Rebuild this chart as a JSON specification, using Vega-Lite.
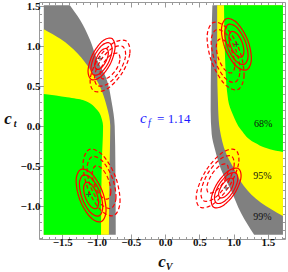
{
"$schema":"https://vega.github.io/schema/vega-lite/v6.json",
"width":246,"height":237,
"autosize":{"type":"none"},
"padding":{"left":39,"top":2,"right":3,"bottom":33},
"background":"white",
"config":{"font":"Liberation Serif","view":{"stroke":"#999","strokeWidth":1}},
"datasets":{
"reg":[
{"l":99,"s":"L","y":-1.36,"a":-1.77,"b":-0.72},{"l":99,"s":"L","y":-0.5,"a":-1.77,"b":-0.725},{"l":99,"s":"L","y":0,"a":-1.77,"b":-0.735},{"l":99,"s":"L","y":0.3,"a":-1.77,"b":-0.78},{"l":99,"s":"L","y":0.6,"a":-1.77,"b":-0.86},{"l":99,"s":"L","y":0.825,"a":-1.77,"b":-0.99},{"l":99,"s":"L","y":1.075,"a":-1.77,"b":-1.095},{"l":99,"s":"L","y":1.325,"a":-1.77,"b":-1.24},{"l":99,"s":"L","y":1.51,"a":-1.77,"b":-1.39},
{"l":95,"s":"L","y":-1.36,"a":-1.77,"b":-0.82},{"l":95,"s":"L","y":-0.5,"a":-1.77,"b":-0.81},{"l":95,"s":"L","y":0,"a":-1.77,"b":-0.8},{"l":95,"s":"L","y":0.24,"a":-1.77,"b":-0.85},{"l":95,"s":"L","y":0.49,"a":-1.77,"b":-0.95},{"l":95,"s":"L","y":0.7,"a":-1.77,"b":-1.09},{"l":95,"s":"L","y":0.91,"a":-1.77,"b":-1.28},{"l":95,"s":"L","y":1.09,"a":-1.77,"b":-1.53},{"l":95,"s":"L","y":1.21,"a":-1.77,"b":-1.77},
{"l":68,"s":"L","y":-1.36,"a":-1.77,"b":-0.935},{"l":68,"s":"L","y":-0.5,"a":-1.77,"b":-0.925},{"l":68,"s":"L","y":0,"a":-1.77,"b":-0.905},{"l":68,"s":"L","y":0.075,"a":-1.77,"b":-0.92},{"l":68,"s":"L","y":0.2,"a":-1.77,"b":-0.99},{"l":68,"s":"L","y":0.325,"a":-1.77,"b":-1.2},{"l":68,"s":"L","y":0.36,"a":-1.77,"b":-1.43},{"l":68,"s":"L","y":0.4,"a":-1.77,"b":-1.77},
{"l":99,"s":"R","y":-1.36,"a":1.3,"b":1.72},{"l":99,"s":"R","y":-1.09,"a":1.11,"b":1.72},{"l":99,"s":"R","y":-0.8,"a":0.96,"b":1.72},{"l":99,"s":"R","y":-0.55,"a":0.82,"b":1.72},{"l":99,"s":"R","y":-0.3,"a":0.73,"b":1.72},{"l":99,"s":"R","y":-0.1,"a":0.68,"b":1.72},{"l":99,"s":"R","y":0.2,"a":0.665,"b":1.72},{"l":99,"s":"R","y":0.8,"a":0.67,"b":1.72},{"l":99,"s":"R","y":1.51,"a":0.69,"b":1.72},
{"l":95,"s":"R","y":-1.125,"a":1.72,"b":1.72},{"l":95,"s":"R","y":-0.96,"a":1.4,"b":1.72},{"l":95,"s":"R","y":-0.75,"a":1.15,"b":1.72},{"l":95,"s":"R","y":-0.54,"a":1.01,"b":1.72},{"l":95,"s":"R","y":-0.34,"a":0.89,"b":1.72},{"l":95,"s":"R","y":-0.05,"a":0.8,"b":1.72},{"l":95,"s":"R","y":0.2,"a":0.775,"b":1.72},{"l":95,"s":"R","y":0.825,"a":0.76,"b":1.72},{"l":95,"s":"R","y":1.51,"a":0.76,"b":1.72},
{"l":68,"s":"R","y":-0.325,"a":1.72,"b":1.72},{"l":68,"s":"R","y":-0.29,"a":1.53,"b":1.72},{"l":68,"s":"R","y":-0.21,"a":1.31,"b":1.72},{"l":68,"s":"R","y":-0.05,"a":1.11,"b":1.72},{"l":68,"s":"R","y":0.14,"a":0.99,"b":1.72},{"l":68,"s":"R","y":0.325,"a":0.92,"b":1.72},{"l":68,"s":"R","y":0.825,"a":0.876,"b":1.72},{"l":68,"s":"R","y":1.51,"a":0.86,"b":1.72}
],
"ell":[
{"e":"As1","d":"s","i":0,"x":-0.78,"y":1.095},{"e":"As1","d":"s","i":1,"x":-0.73,"y":0.981},{"e":"As1","d":"s","i":2,"x":-0.796,"y":0.783},{"e":"As1","d":"s","i":3,"x":-0.938,"y":0.617},{"e":"As1","d":"s","i":4,"x":-1.074,"y":0.581},{"e":"As1","d":"s","i":5,"x":-1.124,"y":0.695},{"e":"As1","d":"s","i":6,"x":-1.058,"y":0.893},{"e":"As1","d":"s","i":7,"x":-0.916,"y":1.059},
{"e":"As2","d":"s","i":0,"x":-0.812,"y":1.038},{"e":"As2","d":"s","i":1,"x":-0.773,"y":0.95},{"e":"As2","d":"s","i":2,"x":-0.825,"y":0.795},{"e":"As2","d":"s","i":3,"x":-0.936,"y":0.666},{"e":"As2","d":"s","i":4,"x":-1.042,"y":0.638},{"e":"As2","d":"s","i":5,"x":-1.081,"y":0.726},{"e":"As2","d":"s","i":6,"x":-1.029,"y":0.881},{"e":"As2","d":"s","i":7,"x":-0.918,"y":1.01},
{"e":"As3","d":"s","i":0,"x":-0.853,"y":0.967},{"e":"As3","d":"s","i":1,"x":-0.828,"y":0.91},{"e":"As3","d":"s","i":2,"x":-0.861,"y":0.81},{"e":"As3","d":"s","i":3,"x":-0.933,"y":0.727},{"e":"As3","d":"s","i":4,"x":-1.001,"y":0.709},{"e":"As3","d":"s","i":5,"x":-1.026,"y":0.766},{"e":"As3","d":"s","i":6,"x":-0.993,"y":0.866},{"e":"As3","d":"s","i":7,"x":-0.921,"y":0.949},
{"e":"Ad1","d":"d","i":0,"x":-0.566,"y":1.061},{"e":"Ad1","d":"d","i":1,"x":-0.515,"y":0.902},{"e":"Ad1","d":"d","i":2,"x":-0.632,"y":0.654},{"e":"Ad1","d":"d","i":3,"x":-0.849,"y":0.463},{"e":"Ad1","d":"d","i":4,"x":-1.04,"y":0.439},{"e":"Ad1","d":"d","i":5,"x":-1.091,"y":0.598},{"e":"Ad1","d":"d","i":6,"x":-0.974,"y":0.846},{"e":"Ad1","d":"d","i":7,"x":-0.757,"y":1.037},
{"e":"Ad2","d":"d","i":0,"x":-0.618,"y":0.993},{"e":"Ad2","d":"d","i":1,"x":-0.578,"y":0.869},{"e":"Ad2","d":"d","i":2,"x":-0.67,"y":0.675},{"e":"Ad2","d":"d","i":3,"x":-0.839,"y":0.526},{"e":"Ad2","d":"d","i":4,"x":-0.988,"y":0.507},{"e":"Ad2","d":"d","i":5,"x":-1.028,"y":0.631},{"e":"Ad2","d":"d","i":6,"x":-0.936,"y":0.825},{"e":"Ad2","d":"d","i":7,"x":-0.767,"y":0.974},
{"e":"Ad3","d":"d","i":0,"x":-0.684,"y":0.906},{"e":"Ad3","d":"d","i":1,"x":-0.659,"y":0.826},{"e":"Ad3","d":"d","i":2,"x":-0.717,"y":0.702},{"e":"Ad3","d":"d","i":3,"x":-0.826,"y":0.606},{"e":"Ad3","d":"d","i":4,"x":-0.922,"y":0.594},{"e":"Ad3","d":"d","i":5,"x":-0.947,"y":0.674},{"e":"Ad3","d":"d","i":6,"x":-0.889,"y":0.798},{"e":"Ad3","d":"d","i":7,"x":-0.78,"y":0.894},
{"e":"Bs1","d":"s","i":0,"x":1.187,"y":0.701},{"e":"Bs1","d":"s","i":1,"x":1.259,"y":0.833},{"e":"Bs1","d":"s","i":2,"x":1.204,"y":1.076},{"e":"Bs1","d":"s","i":3,"x":1.053,"y":1.286},{"e":"Bs1","d":"s","i":4,"x":0.895,"y":1.341},{"e":"Bs1","d":"s","i":5,"x":0.823,"y":1.209},{"e":"Bs1","d":"s","i":6,"x":0.878,"y":0.966},{"e":"Bs1","d":"s","i":7,"x":1.029,"y":0.756},
{"e":"Bs2","d":"s","i":0,"x":1.155,"y":0.771},{"e":"Bs2","d":"s","i":1,"x":1.211,"y":0.874},{"e":"Bs2","d":"s","i":2,"x":1.168,"y":1.064},{"e":"Bs2","d":"s","i":3,"x":1.05,"y":1.228},{"e":"Bs2","d":"s","i":4,"x":0.927,"y":1.271},{"e":"Bs2","d":"s","i":5,"x":0.871,"y":1.168},{"e":"Bs2","d":"s","i":6,"x":0.914,"y":0.978},{"e":"Bs2","d":"s","i":7,"x":1.032,"y":0.814},
{"e":"Bs3","d":"s","i":0,"x":1.114,"y":0.861},{"e":"Bs3","d":"s","i":1,"x":1.15,"y":0.927},{"e":"Bs3","d":"s","i":2,"x":1.123,"y":1.049},{"e":"Bs3","d":"s","i":3,"x":1.047,"y":1.154},{"e":"Bs3","d":"s","i":4,"x":0.968,"y":1.181},{"e":"Bs3","d":"s","i":5,"x":0.932,"y":1.115},{"e":"Bs3","d":"s","i":6,"x":0.959,"y":0.993},{"e":"Bs3","d":"s","i":7,"x":1.035,"y":0.888},
{"e":"Bd1","d":"d","i":0,"x":1.057,"y":0.454},{"e":"Bd1","d":"d","i":1,"x":1.152,"y":0.622},{"e":"Bd1","d":"d","i":2,"x":1.09,"y":0.938},{"e":"Bd1","d":"d","i":3,"x":0.906,"y":1.217},{"e":"Bd1","d":"d","i":4,"x":0.709,"y":1.296},{"e":"Bd1","d":"d","i":5,"x":0.614,"y":1.128},{"e":"Bd1","d":"d","i":6,"x":0.676,"y":0.812},{"e":"Bd1","d":"d","i":7,"x":0.86,"y":0.533},
{"e":"Bd2","d":"d","i":0,"x":1.019,"y":0.547},{"e":"Bd2","d":"d","i":1,"x":1.093,"y":0.678},{"e":"Bd2","d":"d","i":2,"x":1.044,"y":0.924},{"e":"Bd2","d":"d","i":3,"x":0.901,"y":1.142},{"e":"Bd2","d":"d","i":4,"x":0.747,"y":1.203},{"e":"Bd2","d":"d","i":5,"x":0.673,"y":1.072},{"e":"Bd2","d":"d","i":6,"x":0.722,"y":0.826},{"e":"Bd2","d":"d","i":7,"x":0.865,"y":0.608},
{"e":"Bd3","d":"d","i":0,"x":0.97,"y":0.664},{"e":"Bd3","d":"d","i":1,"x":1.018,"y":0.748},{"e":"Bd3","d":"d","i":2,"x":0.987,"y":0.907},{"e":"Bd3","d":"d","i":3,"x":0.895,"y":1.046},{"e":"Bd3","d":"d","i":4,"x":0.796,"y":1.086},{"e":"Bd3","d":"d","i":5,"x":0.748,"y":1.002},{"e":"Bd3","d":"d","i":6,"x":0.779,"y":0.843},{"e":"Bd3","d":"d","i":7,"x":0.871,"y":0.704},
{"e":"Cs1","d":"s","i":0,"x":-0.935,"y":-1.196},{"e":"Cs1","d":"s","i":1,"x":-0.862,"y":-1.063},{"e":"Cs1","d":"s","i":2,"x":-0.916,"y":-0.816},{"e":"Cs1","d":"s","i":3,"x":-1.067,"y":-0.6},{"e":"Cs1","d":"s","i":4,"x":-1.225,"y":-0.542},{"e":"Cs1","d":"s","i":5,"x":-1.298,"y":-0.675},{"e":"Cs1","d":"s","i":6,"x":-1.244,"y":-0.922},{"e":"Cs1","d":"s","i":7,"x":-1.093,"y":-1.138},
{"e":"Cs2","d":"s","i":0,"x":-0.967,"y":-1.124},{"e":"Cs2","d":"s","i":1,"x":-0.91,"y":-1.02},{"e":"Cs2","d":"s","i":2,"x":-0.952,"y":-0.828},{"e":"Cs2","d":"s","i":3,"x":-1.07,"y":-0.659},{"e":"Cs2","d":"s","i":4,"x":-1.193,"y":-0.614},{"e":"Cs2","d":"s","i":5,"x":-1.25,"y":-0.718},{"e":"Cs2","d":"s","i":6,"x":-1.208,"y":-0.91},{"e":"Cs2","d":"s","i":7,"x":-1.09,"y":-1.079},
{"e":"Cs3","d":"s","i":0,"x":-1.007,"y":-1.033},{"e":"Cs3","d":"s","i":1,"x":-0.971,"y":-0.966},{"e":"Cs3","d":"s","i":2,"x":-0.998,"y":-0.842},{"e":"Cs3","d":"s","i":3,"x":-1.073,"y":-0.734},{"e":"Cs3","d":"s","i":4,"x":-1.153,"y":-0.705},{"e":"Cs3","d":"s","i":5,"x":-1.189,"y":-0.772},{"e":"Cs3","d":"s","i":6,"x":-1.162,"y":-0.896},{"e":"Cs3","d":"s","i":7,"x":-1.087,"y":-1.004},
{"e":"Cd1","d":"d","i":0,"x":-0.752,"y":-1.12},{"e":"Cd1","d":"d","i":1,"x":-0.658,"y":-0.953},{"e":"Cd1","d":"d","i":2,"x":-0.721,"y":-0.642},{"e":"Cd1","d":"d","i":3,"x":-0.905,"y":-0.369},{"e":"Cd1","d":"d","i":4,"x":-1.102,"y":-0.292},{"e":"Cd1","d":"d","i":5,"x":-1.196,"y":-0.459},{"e":"Cd1","d":"d","i":6,"x":-1.133,"y":-0.77},{"e":"Cd1","d":"d","i":7,"x":-0.949,"y":-1.043},
{"e":"Cd2","d":"d","i":0,"x":-0.79,"y":-1.029},{"e":"Cd2","d":"d","i":1,"x":-0.717,"y":-0.899},{"e":"Cd2","d":"d","i":2,"x":-0.766,"y":-0.656},{"e":"Cd2","d":"d","i":3,"x":-0.91,"y":-0.443},{"e":"Cd2","d":"d","i":4,"x":-1.064,"y":-0.383},{"e":"Cd2","d":"d","i":5,"x":-1.137,"y":-0.513},{"e":"Cd2","d":"d","i":6,"x":-1.088,"y":-0.756},{"e":"Cd2","d":"d","i":7,"x":-0.944,"y":-0.969},
{"e":"Cd3","d":"d","i":0,"x":-0.839,"y":-0.913},{"e":"Cd3","d":"d","i":1,"x":-0.792,"y":-0.83},{"e":"Cd3","d":"d","i":2,"x":-0.824,"y":-0.674},{"e":"Cd3","d":"d","i":3,"x":-0.916,"y":-0.537},{"e":"Cd3","d":"d","i":4,"x":-1.015,"y":-0.499},{"e":"Cd3","d":"d","i":5,"x":-1.062,"y":-0.582},{"e":"Cd3","d":"d","i":6,"x":-1.03,"y":-0.738},{"e":"Cd3","d":"d","i":7,"x":-0.938,"y":-0.875},
{"e":"Ds1","d":"s","i":0,"x":1.072,"y":-0.534},{"e":"Ds1","d":"s","i":1,"x":1.106,"y":-0.653},{"e":"Ds1","d":"s","i":2,"x":1.014,"y":-0.843},{"e":"Ds1","d":"s","i":3,"x":0.85,"y":-0.993},{"e":"Ds1","d":"s","i":4,"x":0.71,"y":-1.016},{"e":"Ds1","d":"s","i":5,"x":0.676,"y":-0.897},{"e":"Ds1","d":"s","i":6,"x":0.768,"y":-0.707},{"e":"Ds1","d":"s","i":7,"x":0.932,"y":-0.557},
{"e":"Ds2","d":"s","i":0,"x":1.032,"y":-0.587},{"e":"Ds2","d":"s","i":1,"x":1.059,"y":-0.68},{"e":"Ds2","d":"s","i":2,"x":0.987,"y":-0.828},{"e":"Ds2","d":"s","i":3,"x":0.859,"y":-0.945},{"e":"Ds2","d":"s","i":4,"x":0.75,"y":-0.963},{"e":"Ds2","d":"s","i":5,"x":0.723,"y":-0.87},{"e":"Ds2","d":"s","i":6,"x":0.795,"y":-0.722},{"e":"Ds2","d":"s","i":7,"x":0.923,"y":-0.605},
{"e":"Ds3","d":"s","i":0,"x":0.982,"y":-0.655},{"e":"Ds3","d":"s","i":1,"x":0.999,"y":-0.714},{"e":"Ds3","d":"s","i":2,"x":0.953,"y":-0.809},{"e":"Ds3","d":"s","i":3,"x":0.87,"y":-0.884},{"e":"Ds3","d":"s","i":4,"x":0.8,"y":-0.895},{"e":"Ds3","d":"s","i":5,"x":0.783,"y":-0.836},{"e":"Ds3","d":"s","i":6,"x":0.829,"y":-0.741},{"e":"Ds3","d":"s","i":7,"x":0.912,"y":-0.666},
{"e":"Dd1","d":"d","i":0,"x":1.027,"y":-0.299},{"e":"Dd1","d":"d","i":1,"x":1.073,"y":-0.469},{"e":"Dd1","d":"d","i":2,"x":0.939,"y":-0.749},{"e":"Dd1","d":"d","i":3,"x":0.704,"y":-0.974},{"e":"Dd1","d":"d","i":4,"x":0.505,"y":-1.013},{"e":"Dd1","d":"d","i":5,"x":0.459,"y":-0.843},{"e":"Dd1","d":"d","i":6,"x":0.593,"y":-0.563},{"e":"Dd1","d":"d","i":7,"x":0.828,"y":-0.338},
{"e":"Dd2","d":"d","i":0,"x":0.97,"y":-0.378},{"e":"Dd2","d":"d","i":1,"x":1.005,"y":-0.51},{"e":"Dd2","d":"d","i":2,"x":0.901,"y":-0.729},{"e":"Dd2","d":"d","i":3,"x":0.718,"y":-0.904},{"e":"Dd2","d":"d","i":4,"x":0.562,"y":-0.934},{"e":"Dd2","d":"d","i":5,"x":0.527,"y":-0.802},{"e":"Dd2","d":"d","i":6,"x":0.631,"y":-0.583},{"e":"Dd2","d":"d","i":7,"x":0.814,"y":-0.408},
{"e":"Dd3","d":"d","i":0,"x":0.897,"y":-0.477},{"e":"Dd3","d":"d","i":1,"x":0.92,"y":-0.562},{"e":"Dd3","d":"d","i":2,"x":0.853,"y":-0.703},{"e":"Dd3","d":"d","i":3,"x":0.735,"y":-0.815},{"e":"Dd3","d":"d","i":4,"x":0.635,"y":-0.835},{"e":"Dd3","d":"d","i":5,"x":0.612,"y":-0.75},{"e":"Dd3","d":"d","i":6,"x":0.679,"y":-0.609},{"e":"Dd3","d":"d","i":7,"x":0.797,"y":-0.497}
],
"ctr":[{"x":-0.95,"y":0.845},{"x":1.04,"y":1.02},{"x":-1.117,"y":-0.856},{"x":0.89,"y":-0.775}],
"pct":[{"t":"68%","x":1.43,"y":0.03},{"t":"95%","x":1.42,"y":-0.625},{"t":"99%","x":1.42,"y":-1.14}],
"cf":[{"x":-0.365,"y":0.0375}],
"ttl":[{"t":"c","x":-0.044,"y":-1.7625},{"t":"c","x":-2.292,"y":0.025}],
"sub":[{"t":"V","x":0.058,"y":-1.8},{"t":"t","x":-2.19,"y":-0.0125}]
},
"resolve":{"axis":{"x":"independent","y":"independent"}},
"layer":[
{"data":{"name":"reg"},"transform":[{"filter":"datum.l == 99"}],
 "mark":{"type":"area","orient":"horizontal","interpolate":"monotone","color":"#808080"},
 "encoding":{
  "y":{"field":"y","type":"quantitative","scale":{"domain":[-1.4125,1.55],"nice":false,"zero":false},
   "axis":{"orient":"left","values":[-1.4,-1.3,-1.2,-1.1,-1,-0.9,-0.8,-0.7,-0.6,-0.5,-0.4,-0.3,-0.2,-0.1,0,0.1,0.2,0.3,0.4,0.5,0.6,0.7,0.8,0.9,1,1.1,1.2,1.3,1.4,1.5],
    "labelExpr":"abs(datum.value*2-round(datum.value*2))<0.001 ? format(datum.value,'.1f') : ''",
    "tickSize":{"condition":{"test":"abs(datum.value*2-round(datum.value*2))<0.001","value":-5},"value":-2.5},
    "tickColor":"#999","domain":false,"grid":false,"title":null,"labelFont":"Liberation Serif","labelFontWeight":"bold","labelFontSize":11,"labelColor":"#111","labelPadding":4,"labelOverlap":false,"labelFlush":false,"labelBound":false}},
  "x":{"field":"a","type":"quantitative","scale":{"domain":[-1.84,1.75],"nice":false,"zero":false},
   "axis":{"orient":"bottom","values":[-1.8,-1.7,-1.6,-1.5,-1.4,-1.3,-1.2,-1.1,-1,-0.9,-0.8,-0.7,-0.6,-0.5,-0.4,-0.3,-0.2,-0.1,0,0.1,0.2,0.3,0.4,0.5,0.6,0.7,0.8,0.9,1,1.1,1.2,1.3,1.4,1.5,1.6,1.7],
    "labelExpr":"abs(datum.value*2-round(datum.value*2))<0.001 ? format(datum.value,'.1f') : ''",
    "tickSize":{"condition":{"test":"abs(datum.value*2-round(datum.value*2))<0.001","value":-5},"value":-2.5},
    "tickColor":"#999","domain":false,"grid":false,"title":null,"labelFont":"Liberation Serif","labelFontWeight":"bold","labelFontSize":11,"labelColor":"#111","labelPadding":2,"labelOverlap":false,"labelFlush":false,"labelBound":false}},
  "x2":{"field":"b"},
  "detail":{"field":"s"}}},
{"data":{"name":"reg"},"transform":[{"filter":"datum.l == 95"}],
 "mark":{"type":"area","orient":"horizontal","interpolate":"monotone","color":"#ffff00"},
 "encoding":{
  "y":{"field":"y","type":"quantitative","scale":{"domain":[-1.4125,1.55],"nice":false,"zero":false},"axis":null},
  "x":{"field":"a","type":"quantitative","scale":{"domain":[-1.84,1.75],"nice":false,"zero":false},"axis":null},
  "x2":{"field":"b"},"detail":{"field":"s"}}},
{"data":{"name":"reg"},"transform":[{"filter":"datum.l == 68"}],
 "mark":{"type":"area","orient":"horizontal","interpolate":"monotone","color":"#00ff00"},
 "encoding":{
  "y":{"field":"y","type":"quantitative","scale":{"domain":[-1.4125,1.55],"nice":false,"zero":false},"axis":null},
  "x":{"field":"a","type":"quantitative","scale":{"domain":[-1.84,1.75],"nice":false,"zero":false},"axis":null},
  "x2":{"field":"b"},"detail":{"field":"s"}}},
{"data":{"name":"ell"},
 "mark":{"type":"line","interpolate":"cardinal-closed","color":"#ff0000","strokeWidth":1.2},
 "encoding":{
  "x":{"field":"x","type":"quantitative","scale":{"domain":[-1.84,1.75],"nice":false,"zero":false},"axis":null},
  "y":{"field":"y","type":"quantitative","scale":{"domain":[-1.4125,1.55],"nice":false,"zero":false},"axis":null},
  "detail":{"field":"e"},"order":{"field":"i","type":"quantitative"},
  "strokeDash":{"field":"d","type":"nominal","scale":{"domain":["s","d"],"range":[[1,0],[4,2.5]]},"legend":null}}},
{"data":{"name":"ctr"},
 "mark":{"type":"point","shape":"M-1,0L1,0M0,-1L0,1","size":25,"filled":false,"color":"#333","strokeWidth":1},
 "encoding":{
  "x":{"field":"x","type":"quantitative","scale":{"domain":[-1.84,1.75],"nice":false,"zero":false},"axis":null},
  "y":{"field":"y","type":"quantitative","scale":{"domain":[-1.4125,1.55],"nice":false,"zero":false},"axis":null}}},
{"data":{"name":"pct"},
 "mark":{"type":"text","font":"Liberation Serif","fontSize":10,"color":"#111","baseline":"middle","align":"center"},
 "encoding":{
  "x":{"field":"x","type":"quantitative","scale":{"domain":[-1.84,1.75],"nice":false,"zero":false},
   "axis":{"orient":"top","values":[-1.8,-1.7,-1.6,-1.5,-1.4,-1.3,-1.2,-1.1,-1,-0.9,-0.8,-0.7,-0.6,-0.5,-0.4,-0.3,-0.2,-0.1,0,0.1,0.2,0.3,0.4,0.5,0.6,0.7,0.8,0.9,1,1.1,1.2,1.3,1.4,1.5,1.6,1.7],"labels":false,
    "tickSize":{"condition":{"test":"abs(datum.value*2-round(datum.value*2))<0.001","value":-5},"value":-2.5},"tickColor":"#999","domain":false,"grid":false,"title":null}},
  "y":{"field":"y","type":"quantitative","scale":{"domain":[-1.4125,1.55],"nice":false,"zero":false},
   "axis":{"orient":"right","values":[-1.4,-1.3,-1.2,-1.1,-1,-0.9,-0.8,-0.7,-0.6,-0.5,-0.4,-0.3,-0.2,-0.1,0,0.1,0.2,0.3,0.4,0.5,0.6,0.7,0.8,0.9,1,1.1,1.2,1.3,1.4,1.5],"labels":false,
    "tickSize":{"condition":{"test":"abs(datum.value*2-round(datum.value*2))<0.001","value":-5},"value":-2.5},"tickColor":"#999","domain":false,"grid":false,"title":null}},
  "text":{"field":"t"}}},
{"data":{"name":"cf"},
 "mark":{"type":"text","text":"c","font":"Liberation Serif","fontStyle":"italic","fontSize":15,"color":"#1a1aff","align":"left","baseline":"alphabetic"},
 "encoding":{
  "x":{"field":"x","type":"quantitative","scale":{"domain":[-1.84,1.75],"nice":false,"zero":false},"axis":null},
  "y":{"field":"y","type":"quantitative","scale":{"domain":[-1.4125,1.55],"nice":false,"zero":false},"axis":null}}},
{"data":{"name":"cf"},
 "mark":{"type":"text","text":"f","font":"Liberation Serif","fontStyle":"italic","fontSize":10,"color":"#1a1aff","align":"left","baseline":"alphabetic","dx":8,"dy":3},
 "encoding":{
  "x":{"field":"x","type":"quantitative","scale":{"domain":[-1.84,1.75],"nice":false,"zero":false},"axis":null},
  "y":{"field":"y","type":"quantitative","scale":{"domain":[-1.4125,1.55],"nice":false,"zero":false},"axis":null}}},
{"data":{"name":"cf"},
 "mark":{"type":"text","text":"= 1.14","font":"Liberation Serif","fontSize":13,"color":"#1a1aff","align":"left","baseline":"alphabetic","dx":17},
 "encoding":{
  "x":{"field":"x","type":"quantitative","scale":{"domain":[-1.84,1.75],"nice":false,"zero":false},"axis":null},
  "y":{"field":"y","type":"quantitative","scale":{"domain":[-1.4125,1.55],"nice":false,"zero":false},"axis":null}}},
{"data":{"name":"ttl"},
 "mark":{"type":"text","font":"Liberation Serif","fontStyle":"italic","fontWeight":"bold","fontSize":17,"color":"#111","align":"center","baseline":"alphabetic"},
 "encoding":{
  "x":{"field":"x","type":"quantitative","scale":{"domain":[-1.84,1.75],"nice":false,"zero":false},"axis":null},
  "y":{"field":"y","type":"quantitative","scale":{"domain":[-1.4125,1.55],"nice":false,"zero":false},"axis":null},
  "text":{"field":"t"}}},
{"data":{"name":"sub"},
 "mark":{"type":"text","font":"Liberation Serif","fontStyle":"italic","fontWeight":"bold","fontSize":10,"color":"#111","align":"center","baseline":"alphabetic"},
 "encoding":{
  "x":{"field":"x","type":"quantitative","scale":{"domain":[-1.84,1.75],"nice":false,"zero":false},"axis":null},
  "y":{"field":"y","type":"quantitative","scale":{"domain":[-1.4125,1.55],"nice":false,"zero":false},"axis":null},
  "text":{"field":"t"}}}
]
}
